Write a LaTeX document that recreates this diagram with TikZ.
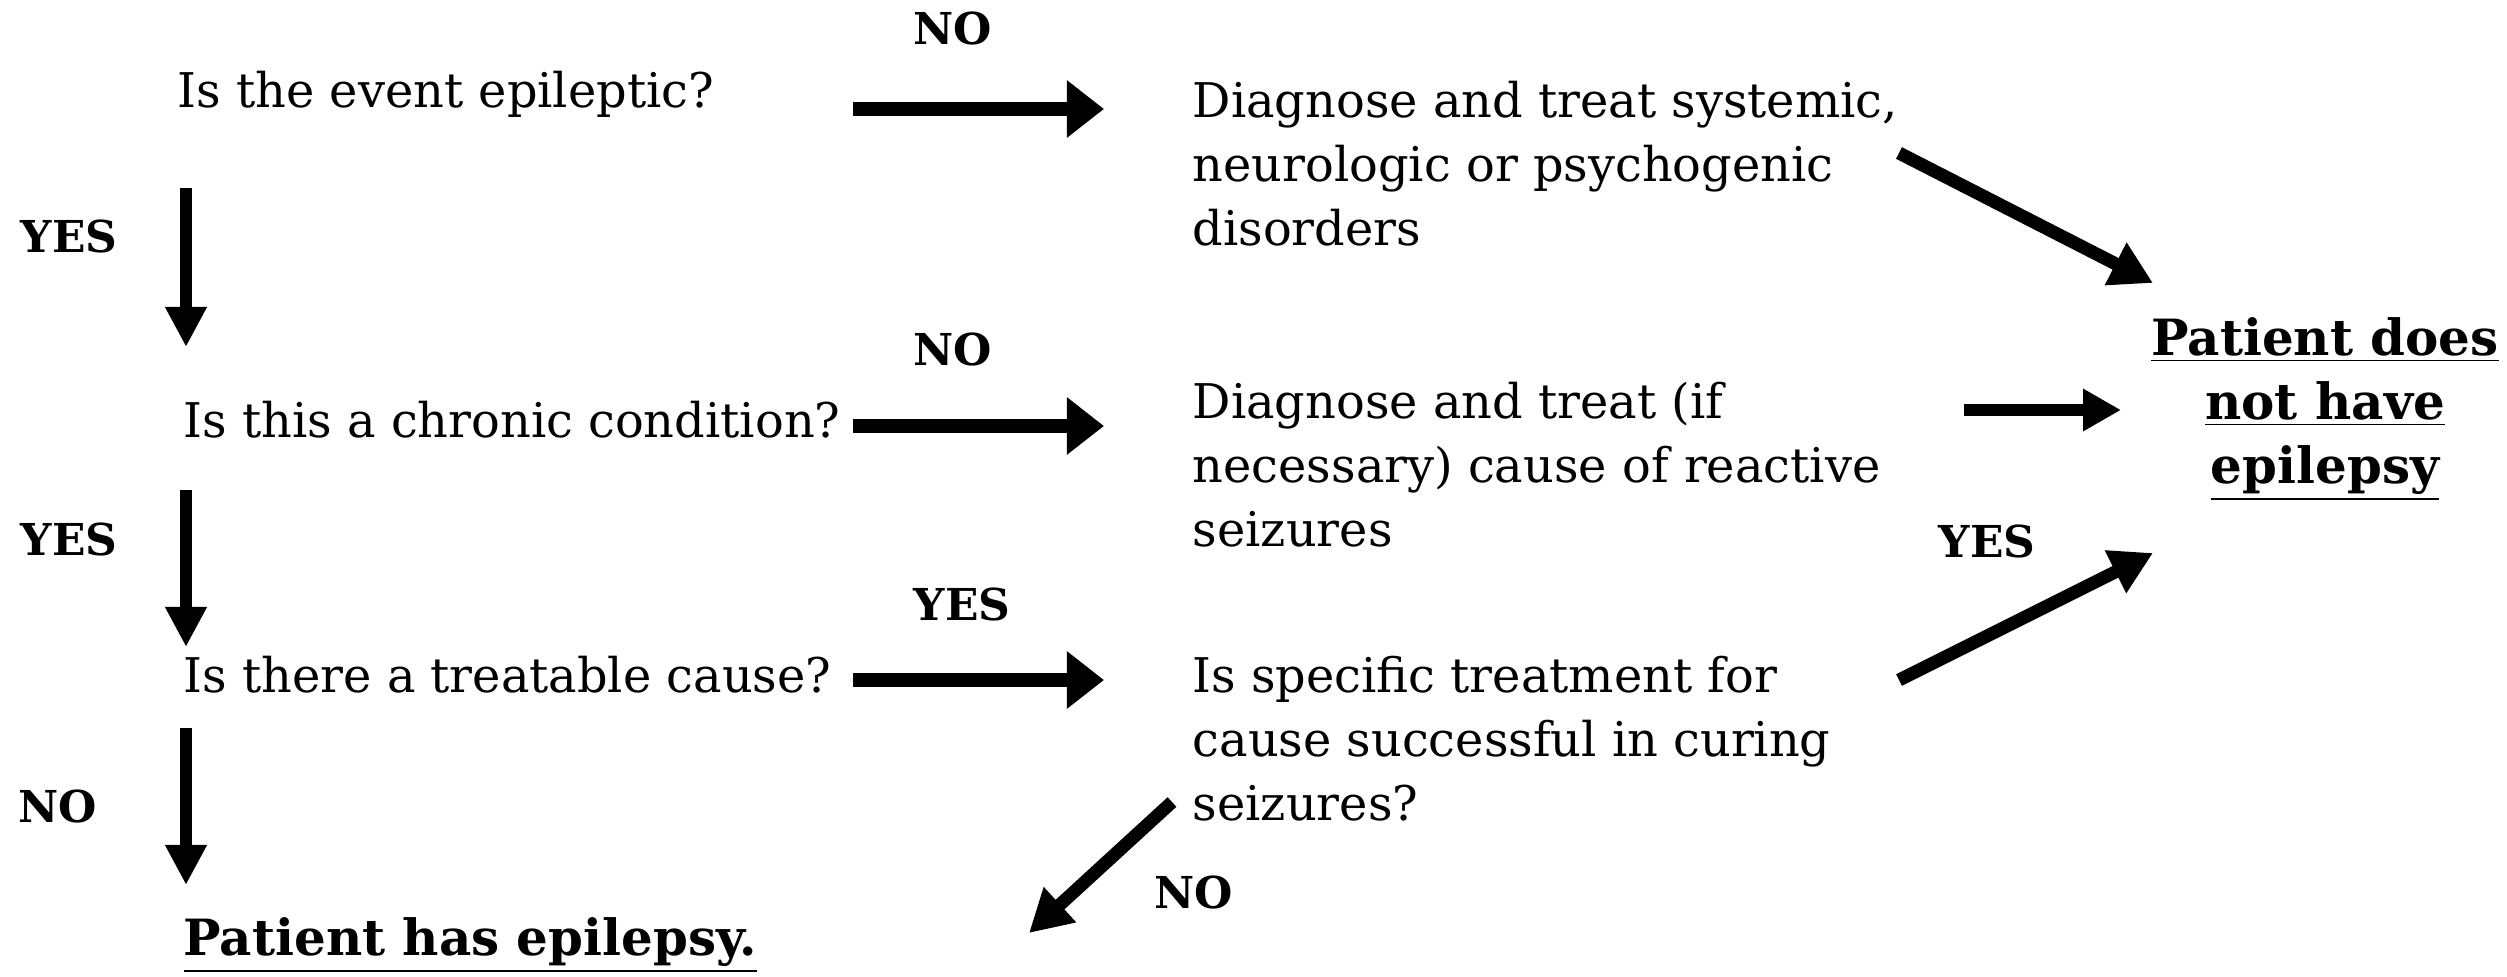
\documentclass[tikz,border=0pt]{standalone}
\usepackage{fontspec}
\setmainfont{DejaVu Serif}
\usetikzlibrary{arrows.meta}
\begin{document}
\begin{tikzpicture}[x=0.01cm,y=-0.01cm,
  txt/.style={inner sep=0pt,anchor=base west,font=\fontsize{13.6pt}{18.2pt}\selectfont},
  lbl/.style={inner sep=0pt,anchor=base west,font=\fontsize{12.5pt}{15pt}\selectfont\bfseries},
  concl/.style={inner sep=0pt,font=\fontsize{14.2pt}{18.2pt}\selectfont\bfseries},
  harrow/.style={line width=0.14cm,-{Triangle[width=0.55cm,length=0.37cm]}},
  marrow/.style={line width=0.12cm,-{Triangle[width=0.40cm,length=0.38cm]}},
  varrow/.style={line width=0.12cm,-{Triangle[width=0.39cm,length=0.40cm]}},
  darrow/.style={line width=0.13cm,-{Triangle[width=0.45cm,length=0.42cm]}},
]
\useasboundingbox (0,0) rectangle (2507,976);
% questions
\node[txt] (q1) at (177,108) {Is the event epileptic?};
\node[txt] (q2) at (183,437) {Is this a chronic condition?};
\node[txt] (q3) at (183,692) {Is there a treatable cause?};
\node[concl,anchor=base west] (c1) at (183,955) {\underline{Patient has epilepsy.}};
% right column
\node[txt] (r1) at (1192,117) {\begin{tabular}[t]{@{}l@{}}Diagnose and treat systemic,\\ neurologic or psychogenic\\ disorders\end{tabular}};
\node[txt] (r2) at (1192,418) {\begin{tabular}[t]{@{}l@{}}Diagnose and treat (if\\ necessary) cause of reactive\\ seizures\end{tabular}};
\node[txt] (r3) at (1192,692) {\begin{tabular}[t]{@{}l@{}}Is specific treatment for\\ cause successful in curing\\ seizures?\end{tabular}};
\node[concl,anchor=base] (c2) at (2325,355) {\begin{tabular}[t]{@{}c@{}}\underline{Patient does}\\ \underline{not have}\\ \underline{epilepsy}\end{tabular}};
% labels
\node[lbl] (n1) at (913,45) {NO};
\node[lbl] (y1) at (20,252) {YES};
\node[lbl] (n2) at (913,365) {NO};
\node[lbl] (y2) at (20,555) {YES};
\node[lbl] (y3) at (913,620) {YES};
\node[lbl] (n3) at (18,822) {NO};
\node[lbl] (y4) at (1938,557) {YES};
\node[lbl] (n5) at (1154,908) {NO};
% arrow end points
\coordinate (a1s) at (853,109);  \coordinate (a1e) at (1104,109);
\coordinate (a2s) at (853,426);  \coordinate (a2e) at (1104,426);
\coordinate (a3s) at (853,680);  \coordinate (a3e) at (1104,680);
\coordinate (v1s) at (186,188);  \coordinate (v1e) at (186,347);
\coordinate (v2s) at (186,490);  \coordinate (v2e) at (186,647);
\coordinate (v3s) at (186,728);  \coordinate (v3e) at (186,885);
\coordinate (d1s) at (1899,153); \coordinate (d1e) at (2153,283);
\coordinate (m1s) at (1964,410); \coordinate (m1e) at (2121,410);
\coordinate (d2s) at (1899,680); \coordinate (d2e) at (2153,553);
\coordinate (d3s) at (1172,802); \coordinate (d3e) at (1029,933);
% arrows
\draw[harrow] (a1s) -- (a1e);
\draw[harrow] (a2s) -- (a2e);
\draw[harrow] (a3s) -- (a3e);
\draw[varrow] (v1s) -- (v1e);
\draw[varrow] (v2s) -- (v2e);
\draw[varrow] (v3s) -- (v3e);
\draw[darrow] (d1s) -- (d1e);
\draw[marrow] (m1s) -- (m1e);
\draw[darrow] (d2s) -- (d2e);
\draw[darrow] (d3s) -- (d3e);
\end{tikzpicture}
\end{document}
